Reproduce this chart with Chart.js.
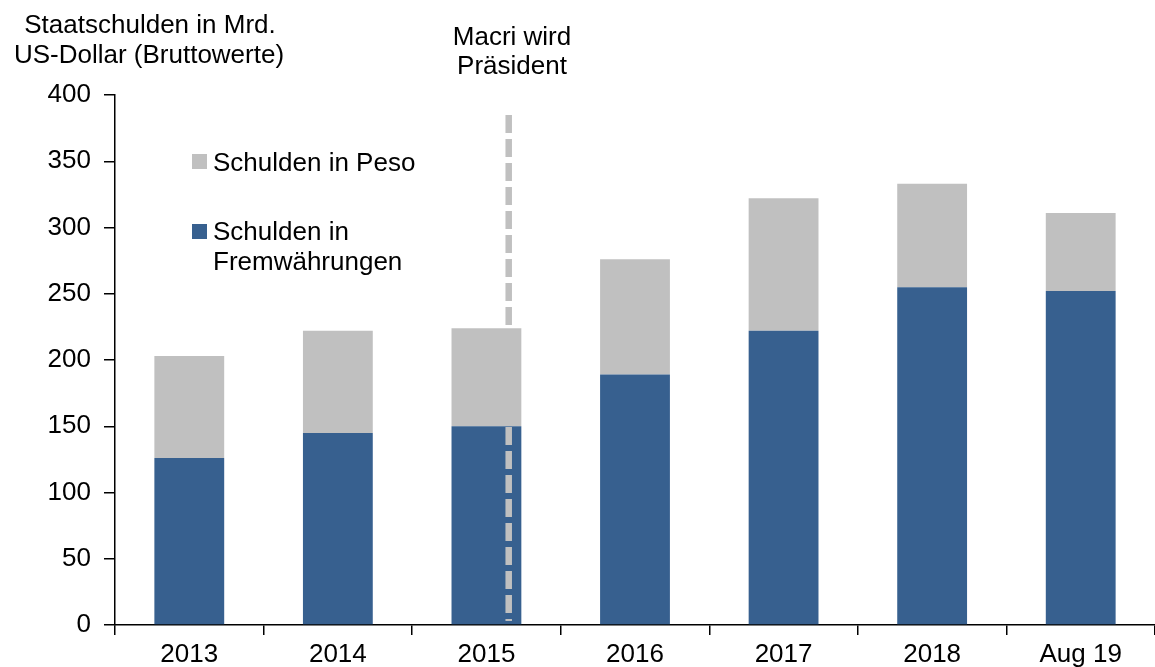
<!DOCTYPE html>
<html>
<head>
<meta charset="utf-8">
<style>
  html, body { margin: 0; padding: 0; background: #fff; overflow: hidden; }
  #wrap { width: 1155px; height: 667px; }
</style>
</head>
<body>
<div id="wrap">
  <canvas id="myChart" width="1155" height="667"></canvas>
</div>

<script src="https://cdn.jsdelivr.net/npm/chart.js"></script>

<script>
  // Daten
  const labels = ['2013', '2014', '2015', '2016', '2017', '2018', 'Aug 19'];
  const fremdwaehrung = [126, 145, 150, 189, 222, 255, 252];
  const peso = [77, 77, 74, 87, 100, 78, 59];
  const yTicks = [0, 50, 100, 150, 200, 250, 300, 350, 400];
  const macriPos = 2.15;       // Kategorie-Position der Markierung
  const macriRange = [3, 385]; // von / bis (Mrd. USD)

  const FONT = '"Liberation Sans", Arial, sans-serif';
  const BLUE = '#37608f';
  const GREY = '#c0c0c0';

  // Titel, Legende und Macri-Linie
  const extras = {
    id: 'extras',
    afterDatasetsDraw(chart) {
      const c = chart.ctx;
      const x = chart.scales.x, y = chart.scales.y;
      const px = x.getPixelForValue(macriPos);
      c.save();
      c.strokeStyle = GREY;
      c.lineWidth = 6.5;
      c.setLineDash([18, 6]);
      c.beginPath();
      c.moveTo(px, y.getPixelForValue(macriRange[1]));
      c.lineTo(px, y.getPixelForValue(macriRange[0]));
      c.stroke();
      c.restore();
    },
    afterDraw(chart) {
      const c = chart.ctx;
      c.save();
      c.fillStyle = '#000';
      c.font = '26px ' + FONT;
      c.textBaseline = 'alphabetic';
      c.textAlign = 'center';
      c.fillText('Staatschulden in Mrd.', 150, 33);
      c.fillText('US-Dollar (Bruttowerte)', 149, 63);
      c.fillText('Macri wird', 512, 45);
      c.fillText('Präsident', 512, 74);

      // Legende
      c.textAlign = 'left';
      c.fillStyle = GREY;
      c.fillRect(192, 154, 15, 15);
      c.fillStyle = '#000';
      c.fillText('Schulden in Peso', 213, 171);
      c.fillStyle = BLUE;
      c.fillRect(192, 224, 15, 15);
      c.fillStyle = '#000';
      c.fillText('Schulden in', 213, 240);
      c.fillText('Fremwährungen', 213, 270);
      c.restore();
    }
  };

  const ctx = document.getElementById('myChart');
  new Chart(ctx, {
    type: 'bar',
    data: {
      labels: labels,
      datasets: [
        {
          label: 'Schulden in Fremwährungen',
          data: fremdwaehrung,
          backgroundColor: BLUE,
          barPercentage: 0.47,
          categoryPercentage: 1
        },
        {
          label: 'Schulden in Peso',
          data: peso,
          backgroundColor: GREY,
          barPercentage: 0.47,
          categoryPercentage: 1
        }
      ]
    },
    options: {
      responsive: false,
      animation: false,
      layout: { padding: { top: 95, left: 0, right: 0, bottom: 0 } },
      plugins: {
        legend: { display: false },
        tooltip: { enabled: false }
      },
      scales: {
        x: {
          stacked: true,
          grid: {
            drawOnChartArea: false,
            drawTicks: true,
            tickLength: 10,
            color: '#000',
            lineWidth: 1.5
          },
          border: { color: '#000', width: 1.5 },
          ticks: {
            color: '#000',
            font: { family: FONT, size: 26 },
            padding: 4,
            maxRotation: 0
          },
          afterFit(scale) { scale.height = 42; }
        },
        y: {
          stacked: true,
          min: 0,
          max: 400,
          afterBuildTicks(scale) {
            scale.ticks = yTicks.map(v => ({ value: v }));
          },
          grid: {
            drawOnChartArea: false,
            drawTicks: true,
            tickLength: 11,
            color: '#000',
            lineWidth: 1.5
          },
          border: { color: '#000', width: 1.5 },
          ticks: {
            color: '#000',
            font: { family: FONT, size: 26 },
            padding: 13
          },
          afterFit(scale) { scale.width = 115; }
        }
      }
    },
    plugins: [extras]
  });
</script>
</body>
</html>
